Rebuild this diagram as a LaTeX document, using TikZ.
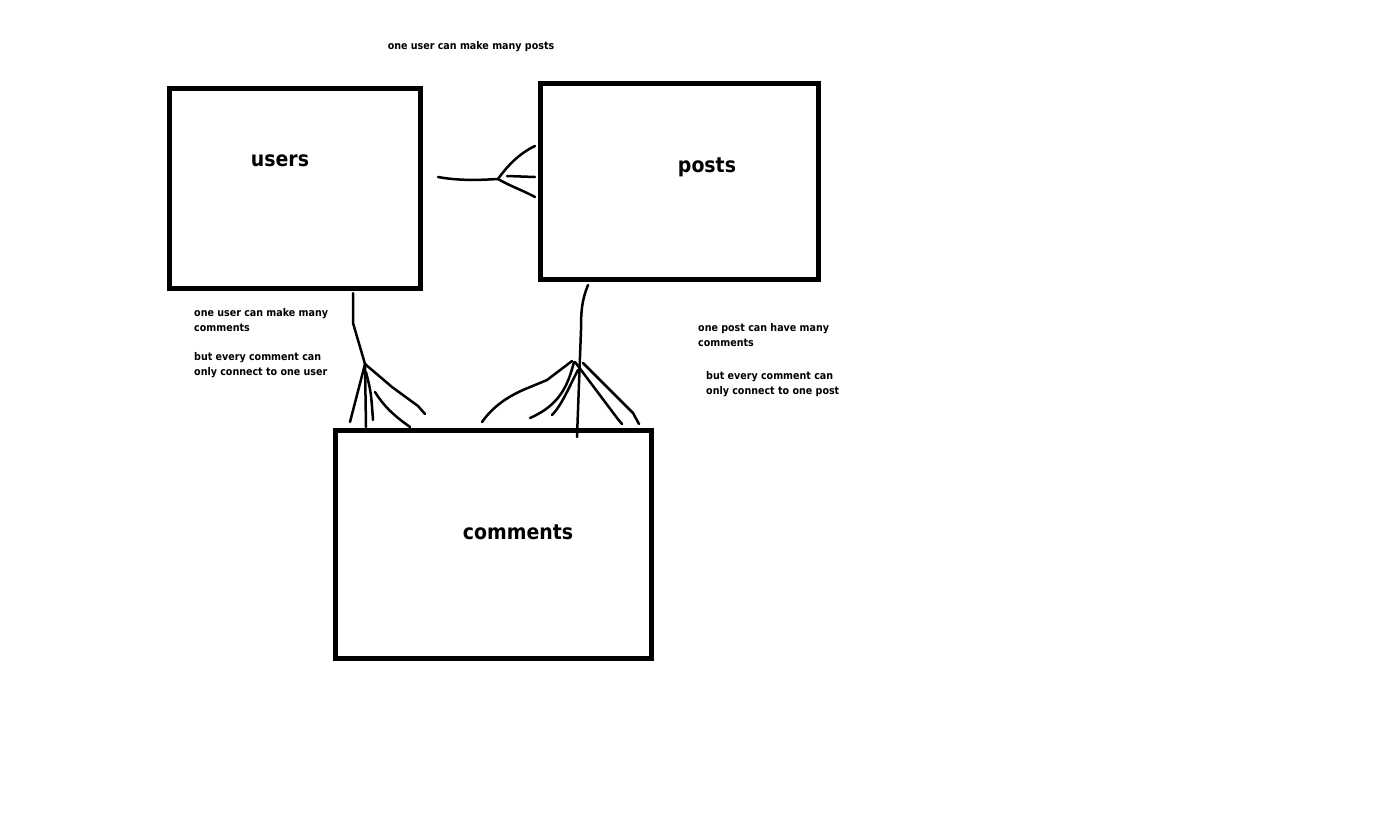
\documentclass[tikz,border=0pt]{standalone}
\usepackage{fontspec}
\setmainfont{DejaVu Sans Condensed}
\newfontfamily\labfont{DejaVu Sans Condensed}
\begin{document}
\begin{tikzpicture}[x=1pt,y=-1pt,
  entity/.style={draw=black,line width=5pt,inner sep=0pt,outer sep=0pt,anchor=north west},
  note/.style={font=\bfseries\fontsize{10.6}{15}\selectfont,anchor=west,align=left,inner sep=0pt},
  title/.style={font=\labfont\bfseries\fontsize{21}{24}\selectfont,inner sep=0pt},
  rel/.style={line width=2.5pt,line cap=round,line join=round}]
\useasboundingbox (0,0) rectangle (1384,812);
\fill[white] (0,0) rectangle (1384,812);
% boxes
\node[entity,minimum width=251pt,minimum height=200pt] (users) at (169.5,88.5) {};
\node[entity,minimum width=278pt,minimum height=196pt] (posts) at (540,83) {};
\node[entity,minimum width=316pt,minimum height=228pt] (comments) at (335,430) {};
% titles
\node[title] (tusers) at (280,161) {users};
\node[title] (tposts) at (707,167) {posts};
\node[title] (tcomments) at (518,532) {comments};
% notes
\node[note,anchor=center] (n1) at (471,47) {one user can make many posts};
\node[note] (n2a) at (194,320.5) {one user can make many\\comments};
\node[note] (n2b) at (194,365.5) {but every comment can\\only connect to one user};
\node[note] (n3a) at (698,335.5) {one post can have many\\comments};
\node[note] (n3b) at (706,384.5) {but every comment can\\only connect to one post};
% connector users -- posts
\coordinate (a1) at (438,177);
\coordinate (a2) at (498,179);
\draw[rel] (a1) .. controls (460,181) and (480,180) .. (a2);
\draw[rel] (a2) .. controls (508,165) and (520,153) .. (535,146);
\draw[rel] (507,176) -- (535,177);
\draw[rel] (a2) .. controls (510,186) and (522,190) .. (535,197);
% connector users -- comments
\coordinate (b1) at (353,293);
\coordinate (b2) at (365,364);
\draw[rel] (b1) -- (353,323) -- (b2);
\draw[rel] (b2) -- (350,422);
\draw[rel] (b2) -- (366,427);
\draw[rel] (366,372) .. controls (371,392) .. (373,420);
\draw[rel] (b2) -- (392,387) -- (418,406) -- (425,414);
\draw[rel] (375,392) .. controls (385,408) and (396,417) .. (410,427);
% connector posts -- comments
\coordinate (c1) at (588,285);
\coordinate (c2) at (572,361);
\draw[rel] (c1) .. controls (582,300) and (581,310) .. (581,330) -- (577,437);
\draw[rel] (c2) -- (547,380) -- (523,390) .. controls (505,398) and (492,408) .. (482,422);
\draw[rel] (574,362) .. controls (568,385) and (560,405) .. (530,418);
\draw[rel] (578,370) .. controls (570,385) and (562,405) .. (552,415);
\draw[rel] (575,362) -- (617,418) -- (622,424);
\draw[rel] (583,363) -- (633,413) -- (639,424);
\end{tikzpicture}
\end{document}
